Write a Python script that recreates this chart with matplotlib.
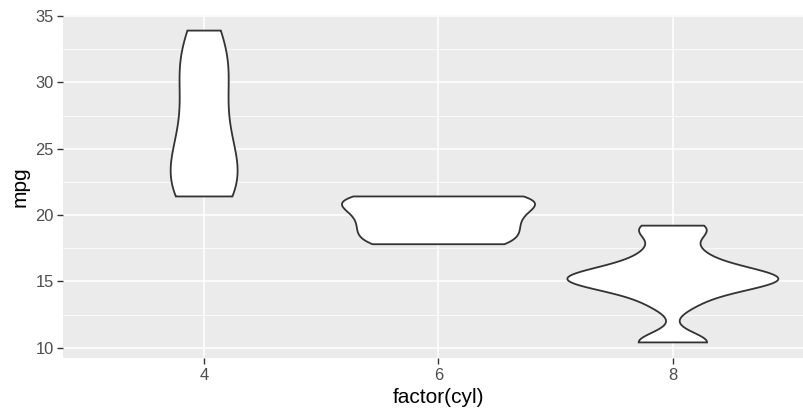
import numpy as np
import matplotlib
matplotlib.use("Agg")
import matplotlib.pyplot as plt
from matplotlib.ticker import MultipleLocator

# mtcars mpg grouped by cylinder count
cyl_labels = ["4", "6", "8"]
mpg_4 = [22.8, 24.4, 22.8, 32.4, 30.4, 33.9, 21.5, 27.3, 26.0, 30.4, 21.4]
mpg_6 = [21.0, 21.0, 21.4, 18.1, 19.2, 17.8, 19.7]
mpg_8 = [18.7, 14.3, 16.4, 17.3, 15.2, 10.4, 10.4, 14.7, 15.5, 15.2, 13.3, 19.2, 15.8, 15.0]
groups = [mpg_4, mpg_6, mpg_8]
y_ticks = [10, 15, 20, 25, 30, 35]


def bw_nrd0(x):
    x = np.asarray(x, float)
    sd = x.std(ddof=1)
    q75, q25 = np.percentile(x, [75, 25])
    lo = min(sd, (q75 - q25) / 1.34)
    if lo == 0:
        lo = sd or abs(x[0]) or 1.0
    return 0.9 * lo * len(x) ** (-0.2)


def kde(x, n=512):
    x = np.asarray(x, float)
    bw = bw_nrd0(x)
    ys = np.linspace(x.min(), x.max(), n)
    d = np.exp(-0.5 * ((ys[:, None] - x[None, :]) / bw) ** 2).sum(axis=1)
    d /= len(x) * bw * np.sqrt(2 * np.pi)
    return ys, d


dens = [kde(g) for g in groups]
maxd = max(d.max() for _, d in dens)

W, H = 804, 412
fig = plt.figure(figsize=(W / 100, H / 100), dpi=100)
plt.rcParams["font.family"] = ["Liberation Sans", "DejaVu Sans"]
left, right, top, bottom = 63.5, 813.5, 15.0, 358.0
ax = fig.add_axes([left / W, (H - bottom) / H, (right - left) / W, (bottom - top) / H])
ax.set_facecolor("#EBEBEB")
for s in ax.spines.values():
    s.set_visible(False)

ax.set_xlim(0.4, 3.6)
ax.set_ylim(9.225, 35.075)
ax.yaxis.set_major_locator(MultipleLocator(5))
ax.yaxis.set_minor_locator(MultipleLocator(2.5))
ax.set_yticks(y_ticks)
ax.set_xticks([1, 2, 3])
ax.set_xticklabels(cyl_labels)
ax.grid(which="major", color="white", linewidth=1.1)
ax.grid(which="minor", axis="y", color="white", linewidth=0.55)
ax.set_axisbelow(True)
ax.tick_params(which="major", length=4, width=1.0, color="#333333",
               labelcolor="#4D4D4D", labelsize=11.9, pad=3)
ax.tick_params(which="minor", length=0)

for i, (ys, d) in enumerate(dens):
    xc = i + 1
    hw = d / maxd * 0.45
    xs = np.concatenate([xc - hw, (xc + hw)[::-1], [xc - hw[0]]])
    yy = np.concatenate([ys, ys[::-1], [ys[0]]])
    ax.fill(xs, yy, facecolor="white", edgecolor="#333333", linewidth=1.3, zorder=3)

ax.set_xlabel("factor(cyl)", fontsize=15, color="black", labelpad=4)
ax.set_ylabel("mpg", fontsize=15, color="black", labelpad=4)

fig.savefig("out.png", dpi=100)
